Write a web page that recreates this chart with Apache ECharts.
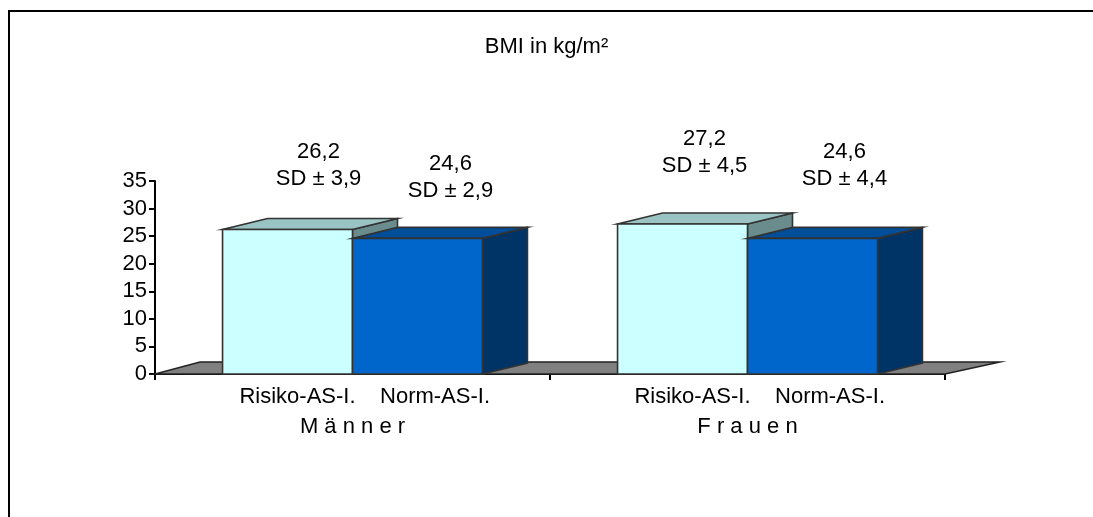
<!DOCTYPE html>
<html>
<head>
<meta charset="utf-8">
<style>
  html, body { margin: 0; padding: 0; background: #fff; }
  #chart { width: 1093px; height: 517px; }
</style>
<script src="https://cdn.jsdelivr.net/npm/echarts@6/dist/echarts.min.js"></script>
</head>
<body>
<div id="chart"></div>
<script>
// BMI (kg/m²) by sex and AS-index group, mean with standard deviation
const titleText = 'BMI in kg/m²';
const categories = ['Männer', 'Frauen'];
const groups = ['Risiko-AS-I.', 'Norm-AS-I.'];
const risikoMean = [26.2, 27.2];
const risikoSD = [3.9, 4.5];
const normMean = [24.6, 24.6];
const normSD = [2.9, 4.4];
const yMin = 0, yMax = 35, yStep = 5;

const FONT = '"Liberation Sans", Arial, sans-serif';

// 3D box look: face colours per group, depth offset of the receding faces
const faceColors = [
  { front: '#CCFFFF', top: '#9AC4C4', side: '#6A8C8C' },
  { front: '#0066CC', top: '#004D99', side: '#003366' }
];
const DEPTH_X = 45, DEPTH_Y = -11;
const BAR_FRACTION = 0.329;
// nudge of the value/SD text block from the front-top centre of each box
const labelNudge = [
  [[31, -64], [22, -72]],
  [[33, -61], [32, -73]]
];

const fmt = v => v.toFixed(1).replace('.', ',');

function barRenderer(groupIdx) {
  return function (params, api) {
    const cat = api.value(0);
    const val = api.value(1);
    const sd = api.value(2);
    const base = api.coord([cat, 0]);
    const topPt = api.coord([cat, val]);
    const band = api.size([1, 0])[0];
    const w = band * BAR_FRACTION;
    const x0 = groupIdx === 0 ? base[0] - w : base[0];
    const x1 = x0 + w;
    const yb = base[1];
    const yt = topPt[1];
    const c = faceColors[groupIdx];
    const stroke = { stroke: '#333', lineWidth: 1.6, lineJoin: 'miter' };
    const nudge = labelNudge[groupIdx][cat];
    return {
      type: 'group',
      children: [
        {
          type: 'polygon',
          shape: { points: [[x1, yt], [x1 + DEPTH_X, yt + DEPTH_Y], [x1 + DEPTH_X, yb + DEPTH_Y], [x1, yb]] },
          style: Object.assign({ fill: c.side }, stroke)
        },
        {
          type: 'polygon',
          shape: { points: [[x0, yt], [x1, yt], [x1 + DEPTH_X, yt + DEPTH_Y], [x0 + DEPTH_X, yt + DEPTH_Y]] },
          style: Object.assign({ fill: c.top }, stroke)
        },
        {
          type: 'rect',
          shape: { x: x0, y: yt, width: w, height: yb - yt },
          style: Object.assign({ fill: c.front }, stroke)
        },
        {
          type: 'text',
          style: {
            text: fmt(val) + '\nSD ± ' + fmt(sd),
            x: (x0 + x1) / 2 + nudge[0],
            y: yt + nudge[1],
            align: 'center',
            verticalAlign: 'middle',
            fontSize: 22,
            lineHeight: 27,
            fontFamily: FONT,
            fill: '#000'
          }
        }
      ]
    };
  };
}

// grey floor plane behind the boxes, spanning the category axis
function floorRenderer(params, api) {
  const cs = params.coordSys;
  const yb = cs.y + cs.height;
  const xl = cs.x, xr = cs.x + cs.width;
  return {
    type: 'polygon',
    shape: { points: [[xl, yb], [xr, yb], [xr + 55, yb - 12], [xl + 45, yb - 12]] },
    style: { fill: '#808080', stroke: '#222', lineWidth: 1.5 }
  };
}

const chart = echarts.init(document.getElementById('chart'), null, { renderer: 'canvas' });

chart.setOption({
  animation: false,
  backgroundColor: '#fff',
  textStyle: { fontFamily: FONT },
  title: {
    text: titleText,
    left: 'center',
    top: 31,
    textStyle: { fontSize: 22, fontWeight: 'normal', color: '#000', fontFamily: FONT }
  },
  graphic: [
    {
      // outer frame of the chart area
      type: 'rect',
      shape: { x: 9, y: 11, width: 1200, height: 600 },
      style: { fill: null, stroke: '#000', lineWidth: 2 },
      silent: true
    }
  ],
  grid: { left: 155, right: 148, top: 181, bottom: 143, containLabel: false },
  xAxis: {
    type: 'category',
    data: categories,
    axisLine: { show: true, lineStyle: { color: '#000', width: 2 } },
    axisTick: { show: true, length: 6, lineStyle: { color: '#000', width: 2 } },
    axisLabel: {
      margin: 8,
      color: '#000',
      fontSize: 22,
      lineHeight: 30,
      fontFamily: FONT,
      // group names on the first line, letter-spaced sex on the second
      formatter: name => '    ' + groups.join('    ') + '\n' + name.split('').join(' ')
    },
    splitLine: { show: false }
  },
  yAxis: {
    type: 'value',
    min: yMin,
    max: yMax,
    interval: yStep,
    axisLine: { show: true, lineStyle: { color: '#000', width: 2 } },
    axisTick: { show: true, length: 6, lineStyle: { color: '#000', width: 2 } },
    axisLabel: { margin: 8, color: '#000', fontSize: 22, fontFamily: FONT },
    splitLine: { show: false }
  },
  series: [
    {
      type: 'custom',
      name: 'floor',
      z: 1,
      clip: false,
      renderItem: floorRenderer,
      data: [[0, 0]]
    },
    {
      type: 'custom',
      name: groups[0],
      z: 2,
      clip: false,
      renderItem: barRenderer(0),
      encode: { x: 0, y: 1 },
      data: categories.map((c, i) => [i, risikoMean[i], risikoSD[i]])
    },
    {
      type: 'custom',
      name: groups[1],
      z: 3,
      clip: false,
      renderItem: barRenderer(1),
      encode: { x: 0, y: 1 },
      data: categories.map((c, i) => [i, normMean[i], normSD[i]])
    }
  ]
});
</script>
</body>
</html>
